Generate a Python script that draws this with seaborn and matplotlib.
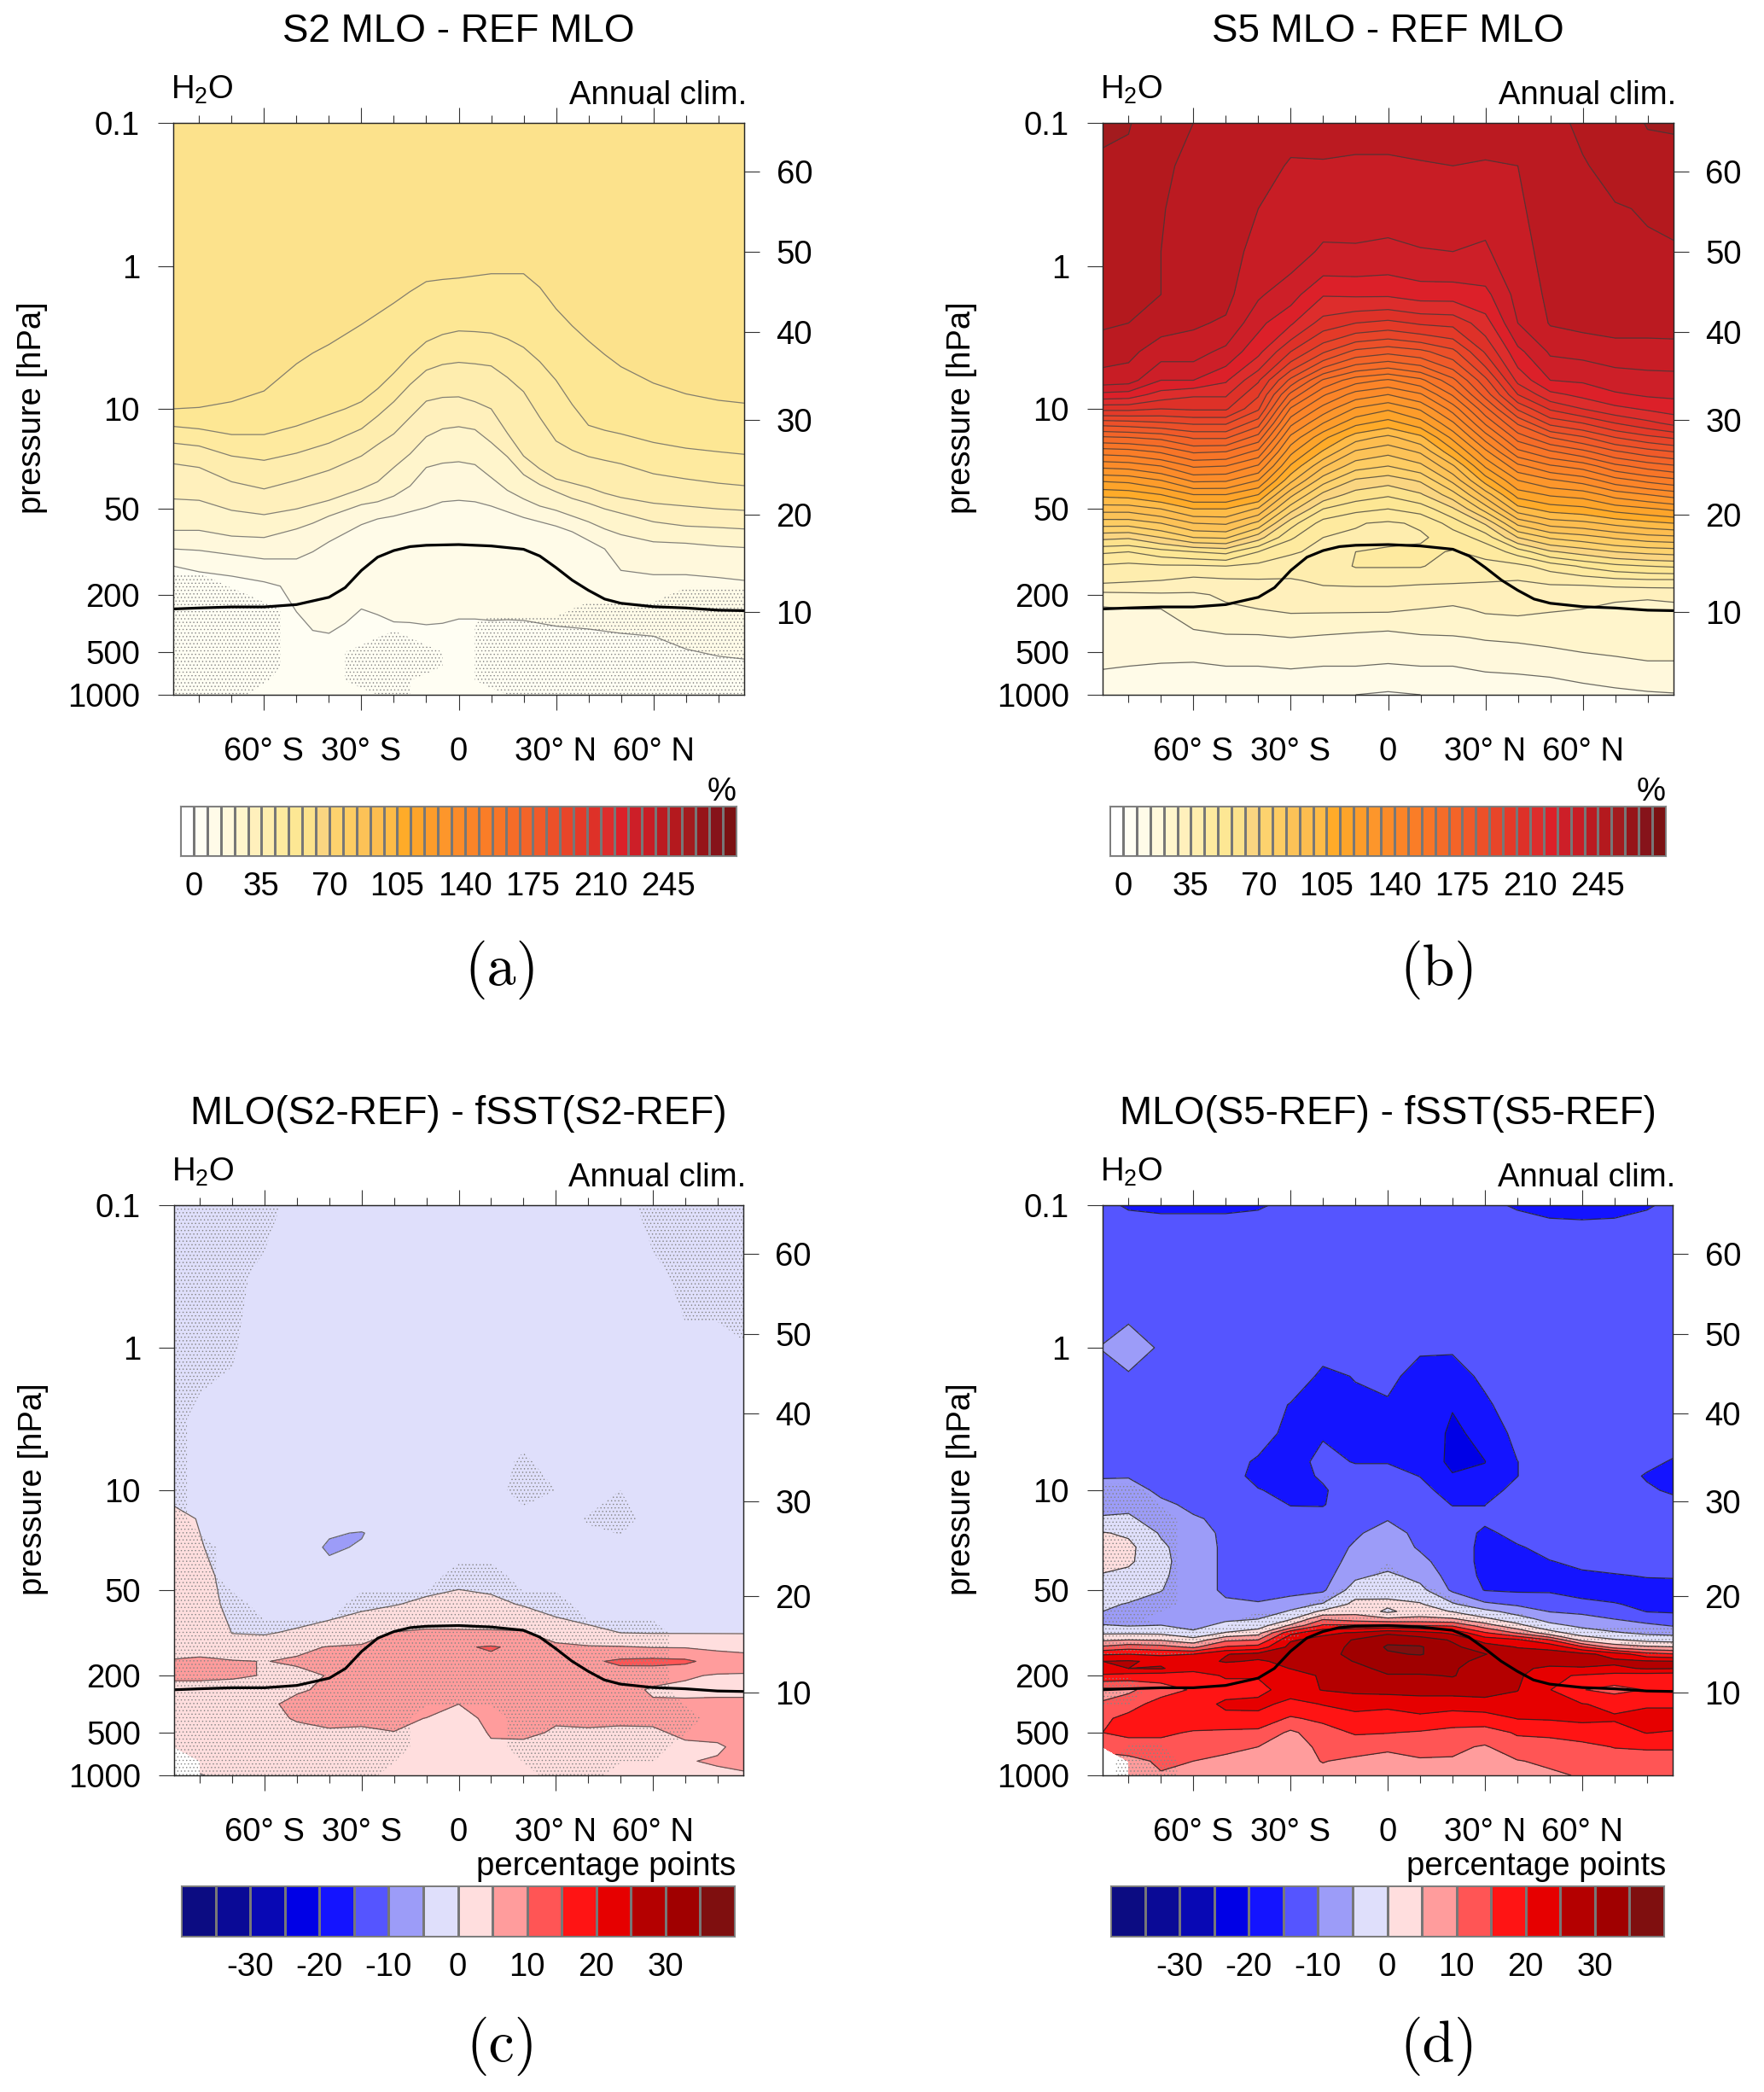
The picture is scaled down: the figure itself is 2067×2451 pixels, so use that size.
import numpy as np
import matplotlib
matplotlib.use("Agg")
import matplotlib.pyplot as plt
from matplotlib.colors import ListedColormap
from matplotlib.ticker import NullLocator, FixedLocator
import seaborn as sns

# latitude nodes shared by the gridded fields
lat = [-88, -80, -70, -60, -50, -40, -30, -20, -10, 0, 10, 20, 30, 40, 50, 60, 70, 80, 88]

# tropopause (hPa)
trop_lat = [-88, -80, -70, -60, -50, -40, -35, -30, -25, -20, -15, -10, 0, 10, 20, 25, 30, 35, 40, 45, 50, 60, 70, 80, 88]
trop_p = [251, 247, 243, 243, 234, 208, 178, 135, 109, 98, 92, 90, 89, 91, 96, 107, 129, 158, 186, 214, 229, 242, 247, 256, 258]

# right hand height axis
height_km = [10, 20, 30, 40, 50, 60]
height_p = [263, 55, 12, 2.9, 0.8, 0.22]
press_ticks = [0.1, 1, 10, 50, 200, 500, 1000]
press_labels = ["0.1", "1", "10", "50", "200", "500", "1000"]
lat_major = [-60, -30, 0, 30, 60]
lat_minor = [-80, -70, -50, -40, -20, -10, 10, 20, 40, 50, 70, 80]
lat_labels = ["60° S", "30° S", "0", "30° N", "60° N"]

# colour tables
warm_colors = ["#ffffff", "#fffef3", "#fffbe8", "#fff8dc", "#fff5cc", "#fff0bc", "#feedae", "#feea9f", "#fde794",
               "#fce28c", "#fad581", "#fdd26e", "#fdcc63", "#fcc257", "#fdbd4f", "#febb47", "#ffab29", "#fda42a",
               "#fd9c2a", "#fd962b", "#fc8b29", "#fb8428", "#fa7d27", "#f87527", "#f56c28", "#f36428", "#f05a29",
               "#ec5029", "#e84529", "#e43a28", "#de3128", "#dd2d2c", "#dc2029", "#cd1f28", "#c81d25", "#bb1a21",
               "#b4191e", "#a31b1e", "#961419", "#86131a", "#7b1213"]
diff_colors = ["#0c0c82", "#0a0a96", "#0808b4", "#0000e6", "#1414ff", "#5555ff", "#9c9cf8", "#dfdffb",
               "#ffdede", "#ff9c9c", "#ff5555", "#ff1414", "#e60000", "#b40000", "#a00000", "#7f0f0f"]
warm_levels = list(range(-7, 281, 7))
diff_levels = list(range(-40, 41, 5))
warm_ticks = [0, 35, 70, 105, 140, 175, 210, 245]
diff_ticks = [-30, -20, -10, 0, 10, 20, 30]

# panel a: log10(p) of each contour line, one row per level
a_lat = [-88, -80, -70, -60, -55, -50, -45, -40, -35, -30, -25, -20, -15, -10, -5, 0, 5, 10, 15, 20, 25, 30, 35, 40, 45, 50, 60, 70, 80, 88]
a_levels = [60, 56, 49, 42, 35, 28, 21, 14, 7, 3]
a_top = [-1] * 30
a_56 = [1.00, .99, .95, .875, .78, .685, .61, .55, .48, .41, .335, .26, .18, .11, .095, .085, .07, .055, .055, .055, .15, .30, .42, .525, .62, .705, .82, .895, .94, .96]
a_49 = [1.123, 1.14, 1.18, 1.18, 1.15, 1.12, 1.08, 1.04, 1.0, .95, .86, .75, .63, .53, .48, .455, .46, .47, .51, .57, .67, .80, .97, 1.115, 1.15, 1.175, 1.235, 1.275, 1.30, 1.318]
a_42 = [1.24, 1.26, 1.33, 1.36, 1.335, 1.31, 1.275, 1.24, 1.19, 1.14, 1.05, .95, .83, .73, .69, .675, .685, .70, .78, .88, 1.06, 1.225, 1.29, 1.334, 1.36, 1.384, 1.454, 1.49, 1.52, 1.537]
a_35 = [1.384, 1.41, 1.51, 1.56, 1.53, 1.50, 1.465, 1.43, 1.38, 1.33, 1.25, 1.175, 1.06, .946, .92, .916, .95, 1.0, 1.17, 1.33, 1.42, 1.49, 1.52, 1.55, 1.59, 1.62, 1.66, 1.68, 1.70, 1.71]
a_28 = [1.63, 1.64, 1.71, 1.74, 1.72, 1.70, 1.67, 1.64, 1.60, 1.56, 1.51, 1.41, 1.315, 1.195, 1.14, 1.125, 1.145, 1.235, 1.335, 1.46, 1.53, 1.58, 1.627, 1.66, 1.70, 1.73, 1.79, 1.82, 1.83, 1.84]
a_21 = [1.85, 1.85, 1.89, 1.90, 1.87, 1.84, 1.80, 1.75, 1.71, 1.67, 1.65, 1.61, 1.54, 1.41, 1.38, 1.37, 1.39, 1.48, 1.57, 1.63, 1.68, 1.71, 1.75, 1.79, 1.84, 1.88, 1.93, 1.94, 1.96, 1.97]
a_14 = [1.98, 1.99, 2.02, 2.05, 2.05, 2.05, 2.0, 1.93, 1.87, 1.81, 1.77, 1.75, 1.72, 1.69, 1.65, 1.64, 1.65, 1.68, 1.72, 1.76, 1.79, 1.82, 1.86, 1.92, 1.98, 2.13, 2.16, 2.16, 2.18, 2.20]
a_07 = [2.10, 2.14, 2.17, 2.21, 2.24, 2.42, 2.55, 2.57, 2.50, 2.40, 2.44, 2.49, 2.495, 2.51, 2.50, 2.47, 2.47, 2.48, 2.475, 2.48, 2.50, 2.52, 2.53, 2.54, 2.555, 2.57, 2.59, 2.68, 2.73, 2.75]
a_bot = [3] * 30

a_sig_rows = [-1, 2.1, 2.2, 2.3, 2.4, 2.5, 2.6, 2.7, 2.8, 2.9, 3.0]
a_sig = [
    [0, 0, 0, 0, 0, 0, 0, 0, 0, 0, 0, 0, 0, 0, 0, 0, 0, 0, 0],
    [0, 0, 0, 0, 0, 0, 0, 0, 0, 0, 0, 0, 0, 0, 0, 0, 0, 0, 0],
    [1, 1, 0, 0, 0, 0, 0, 0, 0, 0, 0, 0, 0, 0, 0, 0, 0, 0, 0],
    [1, 1, 1, 0, 0, 0, 0, 0, 0, 0, 0, 0, 0, 0, 0, 0, 1, 1, 1],
    [1, 1, 1, 1, 0, 0, 0, 0, 0, 0, 0, 0, 0, 1, 1, 1, 1, 1, 1],
    [1, 1, 1, 1, 0, 0, 0, 0, 0, 0, 1, 1, 1, 1, 1, 1, 1, 1, 1],
    [1, 1, 1, 1, 0, 0, 0, 1, 0, 0, 1, 1, 1, 1, 1, 1, 1, 1, 1],
    [1, 1, 1, 1, 0, 0, 1, 1, 1, 0, 1, 1, 1, 1, 1, 1, 1, 1, 1],
    [1, 1, 1, 1, 0, 0, 1, 1, 1, 0, 1, 1, 1, 1, 1, 1, 1, 1, 1],
    [1, 1, 1, .6, 0, 0, 1, 1, 0, 0, 1, 1, 1, 1, 1, 1, 1, 1, 1],
    [1, 1, 1, 0, 0, 0, 0, 1, 0, 0, 0, 1, 1, 1, 1, 1, 1, 1, 1],
]

# panel b: value per latitude column, top to bottom
b_rows = [-1, -.7, -.4, -.1, .2, .4, .6, .8, .9, 1.0, 1.1, 1.2, 1.3, 1.4, 1.5, 1.6, 1.7, 1.8, 1.9, 2.0, 2.1, 2.2, 2.3, 2.4, 2.6, 2.8, 3.0]
b_m88 = [253, 251, 250, 249, 248, 246, 241, 235, 222, 205, 185, 167, 150, 135, 120, 107, 94, 80, 65, 50, 41, 37, 26, 20, 17, 14.5, 9]
b_m80 = [252.5, 250, 249, 248, 247, 245, 240, 234, 221, 205, 186, 168, 151, 136, 121, 108, 94, 80, 64, 49, 40, 36, 26.5, 21, 17, 14, 9]
b_m70 = [247, 246.5, 245.5, 245, 245, 241, 234, 224, 214, 203, 188, 170, 155, 140, 126, 112, 98, 84, 70, 53, 41, 35, 27, 21, 17.5, 13.5, 9]
b_m60 = [245, 243, 242, 241, 240, 239, 234, 224, 211, 204, 190, 176, 162, 148, 134.5, 119, 105, 91, 77, 56, 41, 33, 27, 25, 19, 13, 9]
b_m50 = [243, 241.5, 241, 240.5, 240, 237, 229, 218, 211, 204, 190, 176, 161, 147, 134, 119, 105, 92, 78, 58, 42, 34, 29, 27, 20, 14, 9]
b_m40 = [241, 240, 238, 236, 232, 226, 219, 204, 197, 190, 178, 165, 152, 139, 126, 112, 97, 82, 66, 49, 40, 34.5, 30, 28, 20, 14, 9]
b_m30 = [239.5, 237.5, 236, 234, 227, 218, 203, 180, 166, 153, 142, 131, 121, 111, 100, 86, 73, 59, 50, 43, 38, 34.5, 31, 29, 21, 14.5, 8]
b_m20 = [240, 237.5, 233.5, 230, 217.5, 207, 190, 160, 148, 137, 126, 114, 104, 92, 80, 68, 56, 46, 42, 40, 38, 36, 33, 29, 20, 14, 8]
b_m10 = [240, 237, 234, 230, 218, 203, 180, 150, 137, 125, 114, 101, 90, 80, 69, 60, 51, 42.5, 41, 42, 42.5, 37, 32, 29, 19, 14, 7]
b_p00 = [240, 237, 234, 229, 218, 201, 177, 146, 133, 120, 109, 96, 86, 77, 66, 57, 49, 41, 39.5, 43.5, 42.5, 37, 32, 29, 18, 13.5, 6]
b_p10 = [240.5, 237.5, 234.5, 230.5, 220, 204, 180, 152, 139, 127, 116, 103, 92, 82, 71, 62, 52, 43, 41, 43.5, 42.5, 36.5, 31, 28, 20, 14, 7]
b_p20 = [241, 238, 235, 231, 220, 205, 187, 166, 155, 143, 132, 121, 110, 97, 86, 74, 62, 52, 45, 41.5, 39, 36, 31, 27, 20.5, 14, 8]
b_p30 = [242.5, 237, 233, 230, 222, 214, 204, 187, 178, 166, 155, 143, 131, 120, 108, 94, 80, 64, 52, 44, 40, 35.5, 31, 29, 21.5, 15, 9]
b_p40 = [243, 238, 237, 236, 233.5, 231, 222, 212, 203, 190, 176, 164, 152, 138, 126, 115, 102, 86, 70, 52, 40, 35, 31.5, 29.5, 22, 15.5, 9]
b_p50 = [243.5, 242, 241, 240, 239.5, 238.5, 232, 224, 215, 204, 191, 175, 160, 146, 132, 120, 108, 94, 78, 62, 45, 36.5, 31, 28.5, 23, 16, 10]
b_p60 = [246, 244.5, 243, 242, 241, 240, 233, 225, 219, 210, 196, 181, 166, 150, 136, 122, 110, 96, 81, 66, 50, 38, 28.5, 28, 24, 17.5, 11]
b_p70 = [248, 247, 244.5, 243.5, 243, 241.5, 234, 228, 223, 215, 203, 189, 174, 159, 144, 129, 115, 100, 85, 70, 54, 40, 28.5, 27.5, 24, 19, 12]
b_p80 = [252.5, 248, 245.5, 244, 243.5, 241.5, 234, 229, 225, 218, 208, 194, 179, 164, 149, 133, 118, 103, 88, 72, 56, 41, 28.5, 27, 24.5, 20, 13]
b_p88 = [253, 248, 246, 244.5, 243.5, 241.5, 234.5, 229, 225.5, 220, 212, 197, 182, 167, 152, 136, 120.5, 105, 89, 73, 57, 41, 29, 27, 24.5, 20, 13.5]

# panel c
nan = float("nan")
c_rows = [-1, .5, 1.0, 1.2, 1.3, 1.4, 1.6, 1.8, 2.0, 2.1, 2.2, 2.3, 2.4, 2.5, 2.6, 2.7, 2.8, 2.9, 3.0]
c_m88 = [-2, -2, -1, 1, 1.5, 2, 2.5, 3, 3.5, 4, 5.2, 5.5, 4, 3.5, 3, 3, 1.5, nan, nan]
c_m80 = [-2, -2, -1, -.2, 0, .3, 1.2, 2.2, 3.5, 4, 5.5, 5.5, 4, 3.5, 3, 3, 3, 3, -.5]
c_m70 = [-2, -2, -2, -2, -2, -2, -1.4, -1.3, -.1, 2, 5.3, 5.3, 4, 3.5, 3, 3, 3, 3, 3]
c_m60 = [-2, -2, -2, -2, -2, -2, -2, -2, -.3, 2, 4.9, 4.9, 3.5, 4.6, 4, 3, 3, 3, 3]
c_m50 = [-2, -2, -2, -2, -2, -2, -2, -2, .5, 4.2, 5.5, 4, 4.8, 5.5, 5.3, 4, 3, 3, 3]
c_m40 = [-2, -2, -2, -2, -4.5, -5.8, -2.5, -1.5, 1.5, 5.2, 6, 5.2, 5.3, 6, 6, 4.5, 3, 3, 3]
c_m30 = [-2, -2, -2, -2, -5.3, -4.5, -2.5, -.8, 3, 5.5, 7, 7.5, 7, 6.5, 5.6, 4.5, 3, 3, 3]
c_m20 = [-2, -2, -2, -2, -2, -2, -2, -.2, 5.2, 7, 8, 8, 8, 7, 6, 4.9, 3.5, 3, 3]
c_m10 = [-2, -2, -2, -2, -2, -2, -1.7, .8, 5.8, 8, 8.5, 8.5, 8, 7, 4.9, 4, 3, 3, 3]
c_p00 = [-2, -2, -2, -2, -2, -2, -1.1, 1.5, 5.6, 9.5, 9, 8.5, 7.5, 5, 3.5, 3, 3, 3, 3]
c_p10 = [-2, -2, -2, -2, -2, -2, -1.5, 1, 5.6, 10.4, 9, 8.5, 8, 7, 6, 5.3, 4.5, 3, 3]
c_p20 = [-2, -2, -2, -2, -2, -2, -2, -.3, 5.5, 9, 8, 7.5, 7.5, 7, 6, 5.4, 4.5, 3, 3]
c_p30 = [-2, -2, -2, -2, -2, -2, -2, -1.2, 1.9, 6.5, 8, 8, 7.5, 7, 5.2, 4.8, 3.5, 3, 3]
c_p40 = [-2, -2, -2, -2, -2, -2, -2, -1.6, .8, 5.5, 9, 8, 7, 6.5, 5.5, 4.7, 3.5, 3, 3]
c_p50 = [-2, -2, -2, -2, -2, -2, -2, -2, 0, 5.3, 11, 7.5, 6.5, 6, 5.5, 4.5, 3.5, 3.5, 3]
c_p60 = [-2, -2, -2, -2, -2, -2, -2, -2, -.2, 4.8, 11.5, 6.5, 4.5, 5.5, 5.5, 4.6, 3.5, 3.5, 3]
c_p70 = [-2, -2, -2, -2, -2, -2, -2, -2, -.2, 4.7, 11, 5.5, 4, 5.8, 6.5, 5.5, 4.5, 4.7, 3.5]
c_p80 = [-2, -2, -2, -2, -2, -2, -2, -2, -.2, 4, 8, 4.6, 4, 6, 7, 6.5, 4.3, 5.5, 4]
c_p88 = [-2, -2, -2, -2, -2, -2, -2, -2, -.2, 3.5, 7.5, 4.5, 4, 6, 7, 7, 6.5, 6, 4.5]

c_sig_rows = [-1, -.5, 0, .5, .8, 1.0, 1.2, 1.4, 1.6, 1.8, 2.0, 2.2, 2.4, 2.6, 2.8, 3.0]
c_sig = [
    [1, 1, 1, 1, 0, 0, 0, 0, 0, 0, 0, 0, 0, 0, 0, 1, 1, 1, 1],
    [1, 1, 1, 0, 0, 0, 0, 0, 0, 0, 0, 0, 0, 0, 0, 0, 1, 1, 1],
    [1, 1, .6, 0, 0, 0, 0, 0, 0, 0, 0, 0, 0, 0, 0, 0, 0, 0, .4],
    [1, 0, 0, 0, 0, 0, 0, 0, 0, 0, 0, 0, 0, 0, 0, 0, 0, 0, 0],
    [1, 0, 0, 0, 0, 0, 0, 0, 0, 0, 0, .7, 0, 0, 0, 0, 0, 0, 0],
    [1, 0, 0, 0, 0, 0, 0, 0, 0, 0, 0, 1, .5, 0, .5, 0, 0, 0, 0],
    [1, 0, 0, 0, 0, 0, 0, 0, 0, 0, 0, 0, 0, .6, 1, 0, 0, 0, 0],
    [1, 1, 0, 0, 0, 0, 0, 0, 0, 0, 0, 0, 0, 0, 0, 0, 0, 0, 0],
    [1, 1, 0, 0, 0, 0, 0, 0, 0, 1, 1, 0, 0, 0, 0, 0, 0, 0, 0],
    [1, 1, 1, 0, 0, 0, 1, 1, 1, 1, 1, 1, 1, 0, 0, 0, 0, 0, 0],
    [1, 1, 1, 1, 1, 1, 1, 1, 1, 1, 1, 1, 1, 1, 1, 1, 0, 0, 0],
    [1, 1, 1, 1, 1, 1, 1, 1, 1, 1, 1, 1, 1, 1, 1, 1, 0, 0, 0],
    [1, 1, 1, 1, 1, 1, 1, 1, 1, 1, 1, 1, 1, 1, 1, 1, 0, 0, 0],
    [1, 1, 1, 1, 1, 1, 1, 1, 0, 0, 0, 1, 1, 1, 1, 1, 1, 0, 0],
    [1, 1, 1, 1, 1, 1, 1, 1, 0, 0, 0, 1, 1, 1, 1, 1, 0, 0, 0],
    [1, 1, 1, 1, 1, 1, 1, 0, 0, 0, 0, 0, 1, 1, 0, 0, 0, 0, 0],
]

# panel d
d_rows = [-1, -.8, -.4, 0, .2, .4, .6, .8, .9, 1.0, 1.1, 1.2, 1.3, 1.4, 1.5, 1.6, 1.7, 1.8,
          1.85, 1.9, 1.95, 2.0, 2.05, 2.1, 2.15, 2.2, 2.25, 2.3, 2.4, 2.5, 2.6, 2.7, 2.8, 2.9, 3.0]
d_m88 = [-14, -12, -12, -9.8, -12, -12, -12, -11.5, -10.2, -9, -8, -4, .3, 3, 2, -.5, -2.5, -4.2, -5, -7.5, -4.5, -.8, 4.2, 11, 19.5, 25, 25, 19, 8.5, 10.5, 14, 15, 12, nan, nan]
d_m80 = [-15.5, -12, -11.8, -8, -10.5, -12, -12, -11.5, -10.3, -8, -6.5, -4, -.7, 1.2, .8, -1.5, -3, -5.3, -7, -7, -5.2, -.8, 5, 13, 20, 25.5, 25, 18, 9, 13, 16.5, 16, 13, 8, 7]
d_m70 = [-16, -12, -12, -10.5, -12, -12, -12, -12, -12, -11, -9, -8, -5.5, -4, -3.5, -4, -4.8, -7, -8, -7.5, -4.8, -1, 4.5, 12, 19, 24, 25.5, 17, 13, 17, 18, 16, 13, 11, 9.5]
d_m60 = [-16, -12, -12, -12, -12, -12, -12, -12, -12, -12, -11, -9.5, -8.5, -8, -8, -8, -8, -8, -8, -8, -6.5, -4, 2, 9, 20, 23, 21.5, 18, 15.5, 17.5, 18, 14.5, 12.5, 10, 8.5]
d_m50 = [-16, -12, -12, -12, -12, -12, -12, -13.5, -13.5, -12, -11.5, -11, -10.7, -10.7, -10.7, -10.7, -10.7, -9.3, -8, -6, -3.5, .3, 9, 15.5, 24.8, 25.5, 22, 20.5, 18, 21, 18.5, 14, 11, 9, 8]
d_m40 = [-15.5, -12, -12, -12, -12, -12, -13.5, -15.5, -16, -14.8, -12.5, -12, -12, -12, -12, -12, -12, -9.5, -8, -5.2, -2.5, 3, 10, 17, 26.5, 24.5, 21.5, 20.5, 18, 22, 17.5, 14, 10, 8.5, 8]
d_m30 = [-14, -12, -12, -12, -12, -15.3, -16, -16.5, -16.5, -16, -15.2, -13, -12, -12, -12, -12, -12, -7, -4.5, -1, 6, 18.5, 24.5, 26.5, 27, 26, 25.2, 21.5, 23, 18, 14.5, 9, 8, 8, 8]
d_m20 = [-13, -12, -12, -13.5, -16, -16.5, -15.3, -14, -14.5, -15.5, -15.3, -13, -12, -12, -12, -12, -10.8, -4.5, 1, 9, 16, 24, 26.5, 27, 27.5, 27, 27, 26, 25.2, 20.3, 16, 13, 11, 10.2, 8.5]
d_m10 = [-13, -12, -12, -12, -14.8, -16, -16, -15.2, -13.5, -12.5, -12, -12, -10.5, -9.5, -8.5, -6, -2.5, 1.5, 3.5, 7, 16, 25.5, 30.5, 31.5, 32, 30.3, 28, 27.5, 26, 22, 18, 15.5, 12, 9, 8]
d_p00 = [-13, -12, -12, -12, -14, -15.5, -16, -15.2, -13.5, -12.5, -11, -10.2, -8.5, -8, -7, -4, -1.5, 1, -1, 5.5, 16, 29, 34, 35.5, 34.5, 32.5, 32, 29.5, 26.5, 21.5, 17, 15.2, 11, 8, 8]
d_p10 = [-13, -12, -12, -14.5, -16.5, -17, -16.5, -15.7, -15.1, -13.5, -12, -12, -11, -10.4, -9, -6.5, -3.5, .5, 2.5, 6, 15.2, 27, 32.5, 35.5, 35.3, 32.5, 32, 29.5, 27, 22, 19, 14.5, 11.5, 9.5, 8]
d_p20 = [-13, -12, -12, -14.5, -17, -19.7, -21, -21.5, -19.5, -17, -15.2, -13, -12, -12, -12, -12, -10.8, -4.2, -.3, 5.2, 14.5, 24, 29.5, 31, 32.5, 32, 30.5, 30.3, 27, 22, 17.5, 13.5, 11, 9.5, 8]
d_p30 = [-14, -12, -12, -12, -14, -16, -18.5, -20.1, -19, -17, -15.1, -14, -16, -16.5, -16.5, -16, -15.2, -9, -3.5, .7, 7.5, 15.5, 23, 27.5, 30.2, 28, 28, 27.5, 27, 23, 17.5, 13, 9.5, 8, 8]
d_p40 = [-15.5, -12, -12, -12, -12, -12, -13.5, -15.1, -15.1, -13.5, -12, -12, -13.5, -15.5, -16.5, -17, -15.7, -10.7, -7, -3, 1.5, 9.5, 21, 24.8, 27, 27.5, 26, 26, 25.2, 23, 20.2, 15.5, 13, 9.7, 8.5]
d_p50 = [-17, -12, -12, -12, -12, -12, -12, -12, -12, -12, -12, -12, -12, -13.5, -15.2, -17, -15.5, -12.5, -10.2, -7, -3.5, 2, 15.2, 24, 26.5, 27, 24, 21, 20.2, 21, 20.5, 16, 13, 11, 9]
d_p60 = [-17.5, -12, -12, -12, -12, -12, -12, -12, -12, -12, -12, -12, -12, -12.5, -14, -15.8, -17, -13.5, -11, -8.5, -6, -2.5, 3.5, 16, 26.5, 27, 24.5, 19.5, 15.2, 20.2, 21, 17.5, 13.5, 11.5, 10.5]
d_p70 = [-17, -12, -12, -12, -12, -12, -12, -12, -12, -12, -12, -12, -12, -12, -13.5, -15.3, -17, -14.7, -12, -10.2, -7.5, -4.5, .5, 8, 23, 26, 24, 18, 13.5, 19, 20.5, 18, 15.2, 12.5, 11]
d_p80 = [-15.5, -12, -12, -12, -12, -12, -12, -13.5, -15.6, -14, -12, -12, -12, -12, -13.5, -14.8, -16.5, -16, -15.2, -12, -9, -6, -1.5, 6, 17, 25.5, 25.5, 17.5, 15.2, 19, 23, 20.2, 15.5, 13, 12]
d_p88 = [-14, -12, -12, -12, -12, -12, -12, -15.5, -17, -16, -12.5, -12, -12, -12, -13, -14.8, -16, -16, -15.5, -13, -10.2, -6.5, -2, 5.2, 15.5, 25.2, 25.2, 17, 15.5, 19, 23, 19.5, 15.5, 13, 12]

d_sig_rows = [-1, .9, 1.0, 1.2, 1.4, 1.6, 1.7, 1.8, 1.9, 2.0, 2.1, 2.2, 2.4, 2.6, 2.9, 3.0]
d_sig = [
    [0, 0, 0, 0, 0, 0, 0, 0, 0, 0, 0, 0, 0, 0, 0, 0, 0, 0, 0],
    [0, 0, 0, 0, 0, 0, 0, 0, 0, 0, 0, 0, 0, 0, 0, 0, 0, 0, 0],
    [1, 1, 0, 0, 0, 0, 0, 0, 0, 0, 0, 0, 0, 0, 0, 0, 0, 0, 0],
    [1, 1, 1, 0, 0, 0, 0, 0, 0, 0, 0, 0, 0, 0, 0, 0, 0, 0, 0],
    [1, 1, 1, 0, 0, 0, 0, 0, 0, 0, 0, 0, 0, 0, 0, 0, 0, 0, 0],
    [1, 1, 1, 0, 0, 0, 0, 0, 0, 1, 0, 0, 0, 0, 0, 0, 0, 0, 0],
    [1, 1, 1, 0, 0, 0, 0, 0, 1, 1, 1, 0, 0, 0, 0, 0, 0, 0, 0],
    [1, 1, 1, 0, 0, 0, 0, 1, 1, 1, 1, 1, 0, 0, 0, 0, 0, 0, 0],
    [1, 1, 0, 0, 0, 1, 1, 1, 1, 1, 1, 1, 1, 1, 0, 0, 0, 0, 0],
    [1, 1, 1, 1, 1, 1, 1, 0, 0, 0, 0, 0, 0, 1, 1, 1, 1, 1, 1],
    [1, 1, 1, 1, 0, 0, 0, 0, 0, 0, 0, 0, 0, 0, 0, 0, 0, 1, 1],
    [0, 0, 0, 0, 0, 0, 0, 0, 0, 0, 0, 0, 0, 0, 0, 0, 0, 0, 0],
    [1, 1, 0, 0, 0, 0, 0, 0, 0, 0, 0, 0, 0, 0, 0, 0, 0, 0, 0],
    [0, 0, 0, 0, 0, 0, 0, 0, 0, 0, 0, 0, 0, 0, 0, 0, 0, 0, 0],
    [0, 1, 1, 0, 0, 0, 0, 0, 0, 0, 0, 0, 0, 0, 0, 0, 0, 0, 0],
    [0, 1, 1, 0, 0, 0, 0, 0, 0, 0, 0, 0, 0, 0, 0, 0, 0, 0, 0],
]

WIDTH, HEIGHT = 2067, 2451
FONT = "Liberation Sans"
LABEL_SIZE = 27.5
sns.set_theme(style="ticks")
plt.rcParams["font.family"] = [FONT, "DejaVu Sans"]
plt.rcParams["mathtext.default"] = "regular"
plt.rcParams["hatch.linewidth"] = 0.5
plt.rcParams["axes.linewidth"] = 0.9
plt.rcParams["text.color"] = "black"
plt.rcParams["xtick.color"] = "black"
plt.rcParams["ytick.color"] = "black"


def frac_box(left, top, right, bottom):
    return [left / WIDTH, 1 - bottom / HEIGHT, (right - left) / WIDTH, (bottom - top) / HEIGHT]


def put_text(x, y, s, **kw):
    fig.text(x / WIDTH, 1 - y / HEIGHT, s, va="center", **kw)


def draw_panel(box, grid_x, grid_p, z, levels, colors, line_color, line_alpha, sig_rows=None, sig=None, dot_color="#858585"):
    ax = fig.add_axes(frac_box(*box))
    ax.set_yscale("log")
    ax.contourf(grid_x, grid_p, z, levels=levels, colors=colors)
    ax.contour(grid_x, grid_p, z, levels=levels, colors=line_color, linewidths=0.9, alpha=line_alpha, linestyles="solid")
    if sig is not None:
        dots = ax.contourf(lat, 10.0 ** np.array(sig_rows), np.array(sig), levels=[0.5, 1.5], colors="none", hatches=["...."])
        # the edge colour sets the hatch colour, a zero width hides the outline itself
        dots.set_edgecolor(dot_color)
        dots.set_linewidth(0)
    sns.lineplot(x=trop_lat, y=trop_p, ax=ax, color="black", linewidth=2.3, estimator=None, sort=False)
    ax.set_xlim(-88, 88)
    ax.set_ylim(1000, 0.1)
    ax.set_yticks(press_ticks)
    ax.set_yticklabels(press_labels, fontsize=LABEL_SIZE)
    ax.yaxis.set_minor_locator(NullLocator())
    ax.set_xticks(lat_major)
    ax.set_xticklabels(lat_labels, fontsize=LABEL_SIZE)
    ax.xaxis.set_minor_locator(FixedLocator(lat_minor))
    ax.tick_params(axis="y", which="major", length=13, width=0.8, pad=15, color="#333333")
    ax.tick_params(axis="x", which="major", length=13, width=0.8, top=True, pad=22, color="#333333")
    ax.tick_params(axis="x", which="minor", length=6.5, width=0.8, top=True, color="#333333")
    for side in ["top", "bottom", "left", "right"]:
        ax.spines[side].set_visible(True)
        ax.spines[side].set_color("#333333")
    right = ax.twinx()
    right.set_yscale("log")
    right.set_ylim(1000, 0.1)
    right.set_yticks(height_p)
    right.set_yticklabels([str(h) for h in height_km], fontsize=LABEL_SIZE)
    right.yaxis.set_minor_locator(NullLocator())
    right.tick_params(axis="y", which="major", length=13, width=0.8, pad=14, color="#333333")
    return ax


def draw_bar(box, colors, levels, ticks, step):
    cax = fig.add_axes(frac_box(*box))
    vals = np.arange(len(colors))[None, :]
    sns.heatmap(vals, ax=cax, cmap=ListedColormap(colors), cbar=False, linewidths=0.8, linecolor="#777777",
                xticklabels=False, yticklabels=False)
    cax.set_xticks([(t - levels[0]) / step for t in ticks])
    cax.set_xticklabels([str(t) for t in ticks], fontsize=LABEL_SIZE, rotation=0)
    cax.set_yticks([])
    cax.tick_params(axis="x", length=0, pad=13)
    for side in ["top", "bottom", "left", "right"]:
        cax.spines[side].set_visible(True)
        cax.spines[side].set_color("#888888")
        cax.spines[side].set_linewidth(0.8)


fig = plt.figure(figsize=(WIDTH / 100, HEIGHT / 100), dpi=100)

# contour heights for panel a go on a curvilinear grid
a_logp = np.array([a_top, a_56, a_49, a_42, a_35, a_28, a_21, a_14, a_07, a_bot])
a_z = np.tile(np.array(a_levels, dtype=float)[:, None], (1, len(a_lat)))
a_x = np.tile(np.array(a_lat, dtype=float), (len(a_levels), 1))

b_z = np.array([b_m88, b_m80, b_m70, b_m60, b_m50, b_m40, b_m30, b_m20, b_m10, b_p00, b_p10, b_p20, b_p30, b_p40, b_p50, b_p60, b_p70, b_p80, b_p88]).T
c_z = np.array([c_m88, c_m80, c_m70, c_m60, c_m50, c_m40, c_m30, c_m20, c_m10, c_p00, c_p10, c_p20, c_p30, c_p40, c_p50, c_p60, c_p70, c_p80, c_p88]).T
d_z = np.array([d_m88, d_m80, d_m70, d_m60, d_m50, d_m40, d_m30, d_m20, d_m10, d_p00, d_p10, d_p20, d_p30, d_p40, d_p50, d_p60, d_p70, d_p80, d_p88]).T

boxes = {"a": (203, 144, 872, 814), "b": (1292, 144, 1961, 814), "c": (204, 1412, 871, 2080), "d": (1292, 1412, 1960, 2080)}
draw_panel(boxes["a"], a_x, 10.0 ** a_logp, a_z, warm_levels, warm_colors, "#666666", 0.8, a_sig_rows, a_sig)
draw_panel(boxes["b"], lat, 10.0 ** np.array(b_rows), b_z, warm_levels, warm_colors, "#3a3a3a", 0.75)
draw_panel(boxes["c"], lat, 10.0 ** np.array(c_rows), c_z, diff_levels, diff_colors, "#444444", 0.8, c_sig_rows, c_sig)
draw_panel(boxes["d"], lat, 10.0 ** np.array(d_rows), d_z, diff_levels, diff_colors, "#222222", 0.85, d_sig_rows, d_sig)

draw_bar((211, 944, 863, 1003), warm_colors, warm_levels, warm_ticks, 7)
draw_bar((1300, 944, 1952, 1003), warm_colors, warm_levels, warm_ticks, 7)
draw_bar((212, 2209, 861, 2269), diff_colors, diff_levels, diff_ticks, 5)
draw_bar((1301, 2209, 1950, 2269), diff_colors, diff_levels, diff_ticks, 5)

titles = {"a": "S2 MLO - REF MLO", "b": "S5 MLO - REF MLO", "c": "MLO(S2-REF) - fSST(S2-REF)", "d": "MLO(S5-REF) - fSST(S5-REF)"}
for key, (left, top, right, bottom) in boxes.items():
    mid = (left + right) / 2
    put_text(mid, top - 107, titles[key], ha="center", fontsize=33)
    put_text(left - 3, top - 39, "H$_2$O", ha="left", fontsize=LABEL_SIZE)
    put_text(right + 3, top - 32, "Annual clim.", ha="right", fontsize=LABEL_SIZE)
    put_text(left - 165, (top + bottom) / 2 - 1, "pressure [hPa]", ha="center", rotation=90, fontsize=LABEL_SIZE)

put_text(846, 928, "%", ha="center", fontsize=LABEL_SIZE)
put_text(1935, 928, "%", ha="center", fontsize=LABEL_SIZE)
put_text(862, 2187, "percentage points", ha="right", fontsize=LABEL_SIZE)
put_text(1952, 2187, "percentage points", ha="right", fontsize=LABEL_SIZE)

for letter, x, y in [("(a)", 588, 1136), ("(b)", 1686, 1136), ("(c)", 588, 2397), ("(d)", 1686, 2397)]:
    put_text(x, y, letter, ha="center", fontsize=49, family="cmr10")

fig.savefig("out.png", dpi=100, facecolor="white")
